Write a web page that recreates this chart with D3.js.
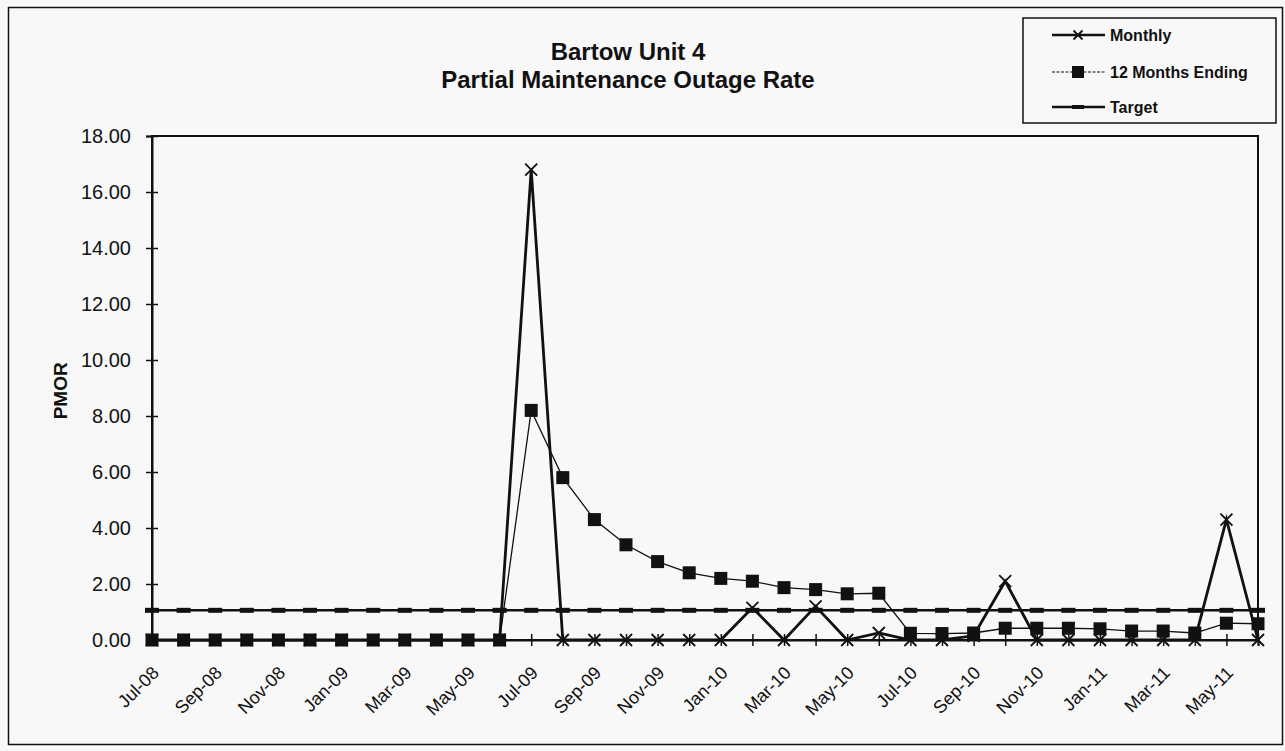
<!DOCTYPE html>
<html>
<head>
<meta charset="utf-8">
<script src="https://cdn.jsdelivr.net/npm/d3@7/dist/d3.min.js"></script>
<style>
  html, body { margin: 0; padding: 0; background: #f8f8f8; }
  svg { display: block; font-family: "Liberation Sans", Arial, sans-serif; }
</style>
</head>
<body>
<svg id="chart" width="1285" height="751"></svg>
<script>
const months = ["Jul-08","Aug-08","Sep-08","Oct-08","Nov-08","Dec-08","Jan-09","Feb-09","Mar-09","Apr-09","May-09","Jun-09",
  "Jul-09","Aug-09","Sep-09","Oct-09","Nov-09","Dec-09","Jan-10","Feb-10","Mar-10","Apr-10","May-10","Jun-10",
  "Jul-10","Aug-10","Sep-10","Oct-10","Nov-10","Dec-10","Jan-11","Feb-11","Mar-11","Apr-11","May-11","Jun-11"];
const monthly = [0,0,0,0,0,0,0,0,0,0,0,0,
  16.8,0,0,0,0,0,0,1.15,0,1.2,0,0.25,
  0,0,0.15,2.1,0,0,0,0,0,0,4.3,0];
const twelveMonths = [0,0,0,0,0,0,0,0,0,0,0,0,
  8.2,5.8,4.3,3.4,2.8,2.4,2.2,2.1,1.87,1.8,1.65,1.67,
  0.24,0.23,0.25,0.42,0.42,0.42,0.4,0.32,0.32,0.25,0.6,0.58];
const target = months.map(() => 1.06);
const yTicks = [0,2,4,6,8,10,12,14,16,18];
const labelMonths = months.filter((d, i) => i % 2 === 0);
const titleLines = ["Bartow Unit 4", "Partial Maintenance Outage Rate"];
const yAxisTitle = "PMOR";
const legendNames = ["Monthly", "12 Months Ending", "Target"];

const svg = d3.select("#chart");
svg.append("rect").attr("width", 1285).attr("height", 751).attr("fill", "#f8f8f8");
// outer border
svg.append("rect").attr("x", 8.5).attr("y", 7.5).attr("width", 1274).attr("height", 737)
  .attr("fill", "none").attr("stroke", "#111").attr("stroke-width", 1.5);

const x = d3.scalePoint().domain(months).range([152, 1258]);
const y = d3.scaleLinear().domain([0, 18]).range([640, 136]);

// plot frame
svg.append("rect").attr("x", 152).attr("y", 136).attr("width", 1258 - 152).attr("height", 640 - 136)
  .attr("fill", "none").attr("stroke", "#111").attr("stroke-width", 2);

// y axis
const yAxis = svg.append("g").attr("transform", "translate(152,0)")
  .call(d3.axisLeft(y).tickValues(yTicks).tickFormat(d3.format(".2f")).tickSize(6).tickPadding(15));
yAxis.select(".domain").attr("stroke", "#111").attr("stroke-width", 2);
yAxis.selectAll(".tick line").attr("x1", -6).attr("x2", 6).attr("stroke", "#111").attr("stroke-width", 1.5);
yAxis.selectAll(".tick text").attr("font-size", 20).attr("fill", "#111");

// x axis
const xAxis = svg.append("g").attr("transform", "translate(0,640)")
  .call(d3.axisBottom(x).tickSize(6).tickFormat(""));
xAxis.select(".domain").attr("stroke", "#111").attr("stroke-width", 2);
xAxis.selectAll(".tick line").attr("y1", -6).attr("y2", 6).attr("stroke", "#111").attr("stroke-width", 1.5);

svg.append("g").selectAll("text").data(labelMonths).join("text")
  .attr("transform", d => `translate(${x(d) + 8},${674}) rotate(-45)`)
  .attr("text-anchor", "end").attr("font-size", 18).attr("fill", "#111").text(d => d);

// y axis title
svg.append("text").attr("transform", `translate(67,${y(8.9)}) rotate(-90)`)
  .attr("text-anchor", "middle").attr("font-size", 19).attr("font-weight", "bold").attr("fill", "#111").text(yAxisTitle);

// title
svg.append("g").selectAll("text").data(titleLines).join("text")
  .attr("x", 628).attr("y", (d, i) => 52 + i * 28).attr("dy", "0.35em")
  .attr("text-anchor", "middle").attr("font-size", 24).attr("font-weight", "bold").attr("fill", "#111").text(d => d);

const line = d3.line().x((d, i) => x(months[i])).y(d => y(d));

// target
svg.append("path").datum(target).attr("d", line).attr("fill", "none").attr("stroke", "#111").attr("stroke-width", 2.5);
svg.append("g").selectAll("rect").data(target).join("rect")
  .attr("x", (d, i) => x(months[i]) - 7).attr("y", d => y(d) - 2.5).attr("width", 14).attr("height", 5).attr("fill", "#111");

// 12 months ending
svg.append("path").datum(twelveMonths).attr("d", line).attr("fill", "none").attr("stroke", "#111").attr("stroke-width", 1.3);
svg.append("g").selectAll("rect").data(twelveMonths).join("rect")
  .attr("x", (d, i) => x(months[i]) - 6.5).attr("y", d => y(d) - 6.5).attr("width", 13).attr("height", 13).attr("fill", "#111");

// monthly
svg.append("path").datum(monthly).attr("d", line).attr("fill", "none").attr("stroke", "#111").attr("stroke-width", 2.8);
const xMark = (cx, cy, s) => `M${cx - s},${cy - s}L${cx + s},${cy + s}M${cx - s},${cy + s}L${cx + s},${cy - s}`;
svg.append("g").selectAll("path").data(monthly).join("path")
  .attr("d", (d, i) => xMark(x(months[i]), y(d), 6)).attr("stroke", "#111").attr("stroke-width", 1.8).attr("fill", "none");

// legend
const lg = svg.append("g");
lg.append("rect").attr("x", 1023).attr("y", 18).attr("width", 253).attr("height", 105)
  .attr("fill", "#f8f8f8").attr("stroke", "#111").attr("stroke-width", 1.5);
const rowsY = [35, 72, 107];
lg.append("line").attr("x1", 1052).attr("x2", 1105).attr("y1", rowsY[0]).attr("y2", rowsY[0]).attr("stroke", "#111").attr("stroke-width", 2.5);
lg.append("path").attr("d", xMark(1078, rowsY[0], 4.5)).attr("stroke", "#111").attr("stroke-width", 1.8);
lg.append("line").attr("x1", 1052).attr("x2", 1105).attr("y1", rowsY[1]).attr("y2", rowsY[1]).attr("stroke", "#111").attr("stroke-width", 1.2).attr("stroke-dasharray", "3,1.5");
lg.append("rect").attr("x", 1072).attr("y", rowsY[1] - 6).attr("width", 12).attr("height", 12).attr("fill", "#111");
lg.append("line").attr("x1", 1052).attr("x2", 1105).attr("y1", rowsY[2]).attr("y2", rowsY[2]).attr("stroke", "#111").attr("stroke-width", 2.5);
lg.append("rect").attr("x", 1072).attr("y", rowsY[2] - 2).attr("width", 12).attr("height", 4).attr("fill", "#111");
lg.selectAll("text").data(legendNames).join("text")
  .attr("x", 1110).attr("y", (d, i) => rowsY[i]).attr("dy", "0.35em")
  .attr("font-size", 16).attr("font-weight", "bold").attr("fill", "#111").text(d => d);
</script>
</body>
</html>
